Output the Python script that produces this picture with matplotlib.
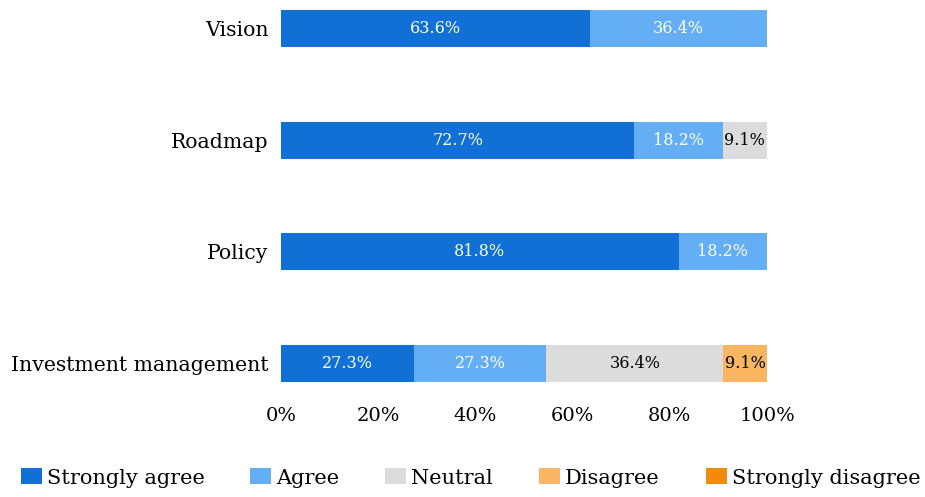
import matplotlib as mpl

mpl.use("Agg")
import matplotlib.pyplot as plt
from matplotlib.patches import Patch
import numpy as np

plt.rcParams["font.family"] = ["DejaVu Serif"]

categories = ["Vision", "Roadmap", "Policy", "Investment management"]
levels = ["Strongly agree", "Agree", "Neutral", "Disagree", "Strongly disagree"]
strongly_agree = [63.6, 72.7, 81.8, 27.3]
agree = [36.4, 18.2, 18.2, 27.3]
neutral = [0.0, 9.1, 0.0, 36.4]
disagree = [0.0, 0.0, 0.0, 9.1]
strongly_disagree = [0.0, 0.0, 0.0, 0.0]
xticks = [0, 20, 40, 60, 80, 100]

colors = ["#1170d6", "#64aef5", "#dcdcdc", "#f9b562", "#f28a0c"]
text_colors = ["white", "white", "black", "black", "black"]
series = [strongly_agree, agree, neutral, disagree, strongly_disagree]

fig = plt.figure(figsize=(9.25, 4.97), dpi=100)
ax = fig.add_axes([281 / 925, 1 - 382 / 497, 486 / 925, 372 / 497])

y = np.arange(len(categories))
h = 0.33
left = np.zeros(len(categories))
for vals, col, tc in zip(series, colors, text_colors):
    vals = np.asarray(vals)
    ax.barh(y, vals, left=left, height=h, color=col, edgecolor="none")
    for yi, (l, v) in enumerate(zip(left, vals)):
        if v > 0:
            ax.text(l + v / 2, yi, f"{v:.1f}%", ha="center", va="center",
                    color=tc, fontsize=11.5)
    left += vals

ax.set_xlim(0, 100)
ax.set_ylim(len(categories) - 1 + h / 2, -h / 2)
ax.set_yticks(y)
ax.set_yticklabels(categories, fontsize=14.7)
ax.set_xticks(xticks)
ax.set_xticklabels([f"{t}%" for t in xticks], fontsize=14)
ax.tick_params(axis="both", length=0)
ax.tick_params(axis="x", pad=18)
ax.tick_params(axis="y", pad=9)
for s in ax.spines.values():
    s.set_visible(False)

handles = [Patch(facecolor=c, edgecolor="none") for c in colors]
fig.legend(handles, levels, loc="center", ncol=5, frameon=False,
           fontsize=15, bbox_to_anchor=(0.5 + 8 / 925, 1 - 478 / 497),
           handlelength=1.0, handleheight=0.8, handletextpad=0.25,
           columnspacing=2.2, borderaxespad=0, borderpad=0)

fig.savefig("out.png", dpi=100)
